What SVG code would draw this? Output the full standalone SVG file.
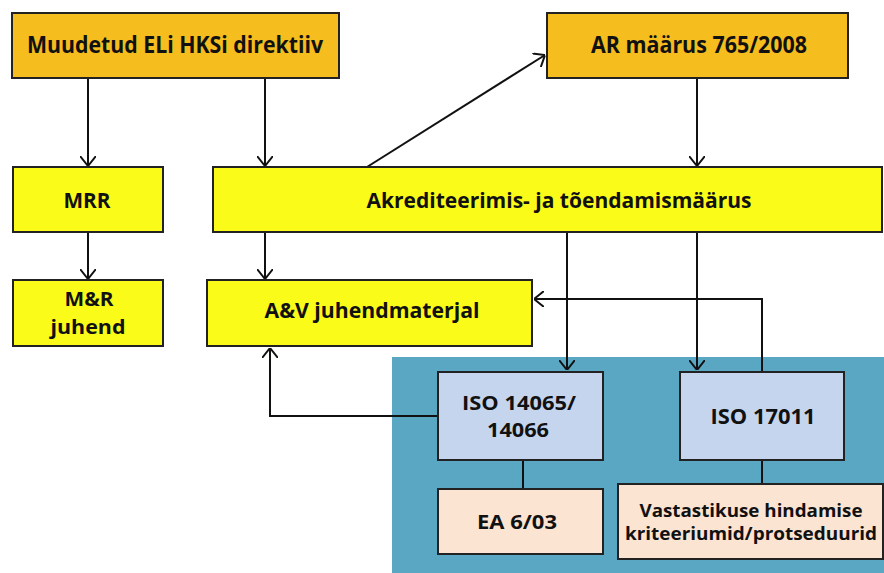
<svg xmlns="http://www.w3.org/2000/svg" width="884" height="573" viewBox="0 0 884 573">
<defs>
<marker id="arr" markerUnits="userSpaceOnUse" viewBox="0 0 10 16" refX="10" refY="8" markerWidth="10" markerHeight="16" orient="auto">
<path d="M0,0 L10,8 L0,16" fill="none" stroke="#111" stroke-width="2"/>
</marker>
<style>
.box{stroke:#222;stroke-width:2}
.or{fill:#f5bd1d}
.ye{fill:#fbfb1a}
.bl{fill:#c6d5ee}
.pe{fill:#fbe4d2}
text{font-family:"Open Sans","Liberation Sans",sans-serif;font-weight:700;fill:#111;text-anchor:middle}
.c line,.c path{stroke:#111;stroke-width:2;fill:none}
</style>
</defs>
<rect width="884" height="573" fill="#fff"/>
<rect x="392" y="357" width="492" height="216" fill="#5aa7c4"/>
<g class="c" id="connectors">
<line x1="88" y1="78" x2="88" y2="166" marker-end="url(#arr)"/>
<line x1="265" y1="78" x2="265" y2="166" marker-end="url(#arr)"/>
<line x1="367" y1="167" x2="545" y2="55" marker-end="url(#arr)"/>
<line x1="697" y1="78" x2="697" y2="166" marker-end="url(#arr)"/>
<line x1="88" y1="232" x2="88" y2="279" marker-end="url(#arr)"/>
<line x1="265" y1="232" x2="265" y2="279" marker-end="url(#arr)"/>
<line x1="567" y1="232" x2="567" y2="370" marker-end="url(#arr)"/>
<line x1="697" y1="232" x2="697" y2="370" marker-end="url(#arr)"/>
<path d="M762,372 L762,299 L534,299" marker-end="url(#arr)"/>
<path d="M438,416 L270,416 L270,348" marker-end="url(#arr)"/>
<line x1="523" y1="460" x2="523" y2="489"/>
<line x1="762" y1="460" x2="762" y2="484"/>
</g>
<g id="n_direktiiv"><rect class="box or" x="12" y="13" width="327" height="65"/><text x="175" y="53" font-size="24" textLength="296" lengthAdjust="spacingAndGlyphs">Muudetud ELi HKSi direktiiv</text></g>
<g id="n_ar"><rect class="box or" x="547" y="13" width="301" height="65"/><text x="699" y="53" font-size="24" textLength="216" lengthAdjust="spacingAndGlyphs">AR määrus 765/2008</text></g>
<g id="n_mrr"><rect class="box ye" x="13" y="167" width="150" height="65"/><text x="87" y="208" font-size="21" textLength="47" lengthAdjust="spacingAndGlyphs">MRR</text></g>
<g id="n_akred"><rect class="box ye" x="213" y="167" width="669" height="65"/><text x="559" y="208" font-size="21" textLength="385" lengthAdjust="spacingAndGlyphs">Akrediteerimis- ja tõendamismäärus</text></g>
<g id="n_mr"><rect class="box ye" x="13" y="280" width="150" height="66"/><text x="89" y="306" font-size="20" textLength="49" lengthAdjust="spacingAndGlyphs">M&amp;R</text><text x="88" y="334" font-size="20" textLength="75" lengthAdjust="spacingAndGlyphs">juhend</text></g>
<g id="n_av"><rect class="box ye" x="207" y="280" width="325" height="66"/><text x="372" y="318" font-size="21" textLength="215" lengthAdjust="spacingAndGlyphs">A&amp;V juhendmaterjal</text></g>
<g id="n_iso14065"><rect class="box bl" x="438" y="372" width="165" height="88"/><text x="519" y="410" font-size="19.5" textLength="114" lengthAdjust="spacingAndGlyphs">ISO 14065/</text><text x="518" y="437" font-size="19.5" textLength="62" lengthAdjust="spacingAndGlyphs">14066</text></g>
<g id="n_iso17011"><rect class="box bl" x="680" y="372" width="164" height="88"/><text x="763" y="424" font-size="22" textLength="105" lengthAdjust="spacingAndGlyphs">ISO 17011</text></g>
<g id="n_ea"><rect class="box pe" x="438" y="489" width="165" height="65"/><text x="517" y="529" font-size="20" textLength="80" lengthAdjust="spacingAndGlyphs">EA 6/03</text></g>
<g id="n_vast"><rect class="box pe" x="618" y="484" width="265" height="75"/><text x="751" y="517" font-size="17" textLength="223" lengthAdjust="spacingAndGlyphs">Vastastikuse hindamise</text><text x="751" y="540" font-size="17" textLength="252" lengthAdjust="spacingAndGlyphs">kriteeriumid/protseduurid</text></g>
</svg>
